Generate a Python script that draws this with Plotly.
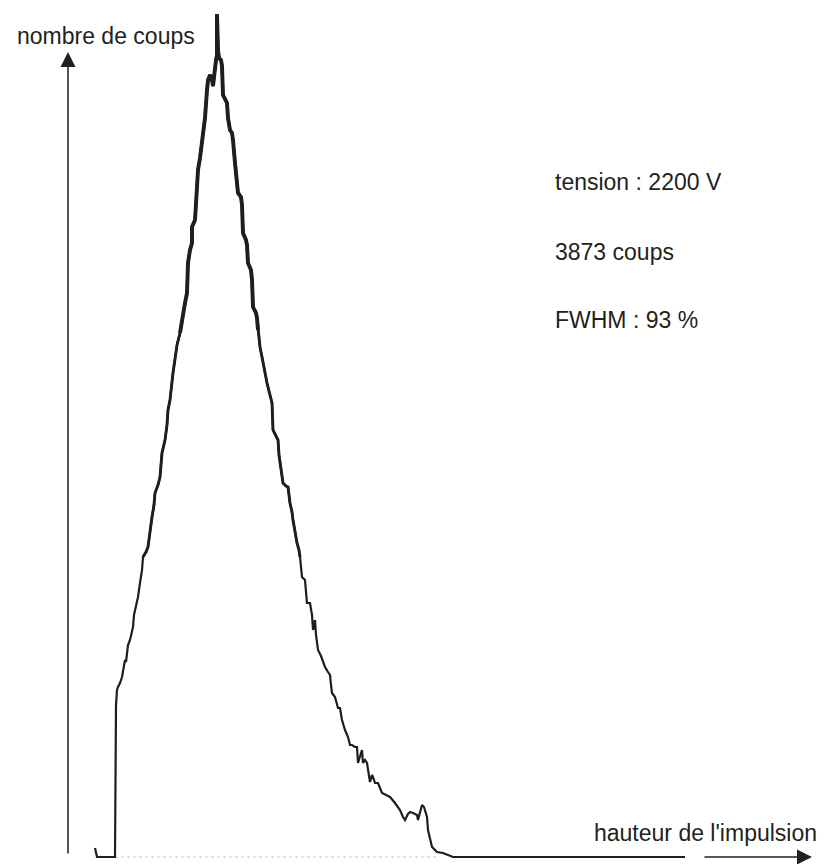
import plotly.graph_objects as go

# Pulse-height spectrum (channel, counts; arbitrary units)
channel = [27, 29, 46, 47, 48, 49, 50, 52, 54, 55, 57, 58, 60, 62, 65, 66, 67, 70, 72, 74,
           75, 78, 80, 82, 84, 86, 87, 90, 92, 93, 94, 97, 99, 100, 102, 105, 107, 109, 112, 115,
           117, 119, 120, 122, 124, 124, 127, 129, 130, 132, 134, 136, 137, 139, 140, 142, 144, 145, 146, 147,
           148, 149, 149, 150, 151, 153, 154, 155, 157, 159, 160, 162, 164, 165, 167, 169, 170, 173, 174, 175,
           178, 179, 180, 183, 184, 185, 188, 189, 190, 192, 194, 195, 197, 199, 202, 204, 205, 208, 210, 211,
           212, 214, 215, 218, 220, 222, 224, 225, 227, 229, 231, 232, 234, 237, 238, 239, 242, 244, 245, 247,
           248, 250, 253, 257, 260, 262, 263, 264, 267, 270, 272, 274, 277, 280, 282, 284, 287, 289, 290, 292,
           294, 295, 297, 299, 302, 304, 305, 307, 310, 314, 318, 322, 327, 332, 335, 337, 340, 342, 345, 349,
           350, 352, 354, 356, 357, 359, 360, 362, 364, 369, 375, 380, 385, 617]
counts = [9, 0, 0, 0, 152, 167, 170, 174, 180, 185, 197, 195, 212, 217, 230, 242, 247, 260, 274, 287,
          300, 305, 310, 327, 340, 352, 364, 372, 380, 392, 404, 417, 432, 447, 457, 484, 500, 512, 524, 544,
          554, 564, 594, 607, 614, 630, 637, 670, 687, 699, 714, 727, 739, 767, 777, 782, 777, 771, 782, 789,
          797, 802, 843, 807, 799, 797, 791, 762, 757, 754, 739, 727, 724, 717, 694, 677, 664, 660, 652, 624,
          617, 612, 594, 587, 577, 550, 544, 539, 527, 510, 500, 494, 484, 474, 462, 454, 427, 420, 417, 402,
          394, 382, 374, 371, 370, 354, 345, 337, 325, 314, 307, 300, 280, 277, 265, 254, 254, 242, 227, 237,
          222, 207, 201, 190, 185, 182, 172, 164, 160, 149, 149, 137, 127, 120, 112, 112, 110, 110, 94, 102,
          107, 94, 97, 94, 75, 82, 80, 74, 74, 64, 62, 60, 54, 47, 40, 37, 43, 45, 44, 42,
          37, 45, 52, 50, 47, 40, 27, 17, 10, 5, 4, 2, 0, 0]

y_label = "nombre de coups"
x_label = "hauteur de l'impulsion"
info_lines = ["tension : 2200 V", "3873 coups", "FWHM : 93 %"]

ink = "#1e1e1e"
txt = "#231f20"
font = "Liberation Sans, Arial, sans-serif"

fig = go.Figure()

# faint baseline left by the scan
fig.add_trace(go.Scatter(x=[47, 370], y=[0, 0], mode="lines",
                         line=dict(color="#c8c8c8", width=1, dash="dot"),
                         hoverinfo="skip", showlegend=False))
# whole curve
fig.add_trace(go.Scatter(x=channel, y=counts, mode="lines",
                         line=dict(color=ink, width=2.2), showlegend=False))
# heavier stroke on the upper part
for thr, w in [(300, 2.9), (520, 3.9)]:
    xs = [c for c, v in zip(channel, counts) if v >= thr]
    ys = [v for v in counts if v >= thr]
    fig.add_trace(go.Scatter(x=xs, y=ys, mode="lines",
                             line=dict(color=ink, width=w), showlegend=False,
                             hoverinfo="skip"))

annotations = [
    # y axis arrow
    dict(x=0, y=805, ax=0, ay=2, xref="x", yref="y", axref="x", ayref="y",
         text="", showarrow=True, arrowhead=2, arrowsize=2, arrowwidth=1.5,
         arrowcolor=txt),
    # x axis arrow
    dict(x=744, y=0, ax=635, ay=0, xref="x", yref="y", axref="x", ayref="y",
         text="", showarrow=True, arrowhead=2, arrowsize=2, arrowwidth=1.5,
         arrowcolor=txt),
    dict(x=-53, y=821, xref="x", yref="y", text=y_label, showarrow=False,
         xanchor="left", yanchor="middle", font=dict(family=font, size=23, color=txt)),
    dict(x=524, y=24, xref="x", yref="y", text=x_label, showarrow=False,
         xanchor="left", yanchor="middle", font=dict(family=font, size=23, color=txt)),
]
for line, yy in zip(info_lines, [675, 605, 537]):
    annotations.append(dict(x=485, y=yy, xref="x", yref="y", text=line, showarrow=False,
                            xanchor="left", yanchor="middle",
                            font=dict(family=font, size=23, color=txt)))

fig.update_layout(
    width=824, height=864,
    margin=dict(l=0, r=0, t=0, b=0),
    paper_bgcolor="white", plot_bgcolor="white",
    xaxis=dict(range=[-68, 756], visible=False, fixedrange=True),
    yaxis=dict(range=[-7, 857], visible=False, fixedrange=True),
    annotations=annotations,
    showlegend=False,
)

fig.write_html("out.html",
               config={"displayModeBar": False},
               post_script="document.body.style.margin='0';document.body.style.overflow='hidden';")
